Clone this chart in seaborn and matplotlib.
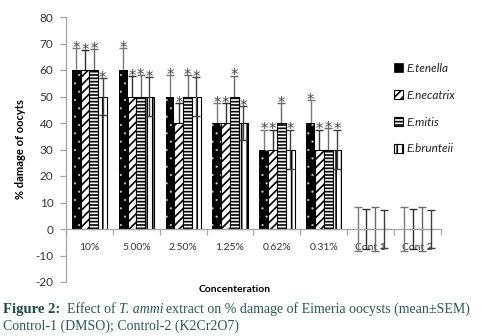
import numpy as np
import pandas as pd
import matplotlib
matplotlib.use("Agg")
import matplotlib.pyplot as plt
import seaborn as sns
from matplotlib.patches import Patch
from matplotlib.ticker import FixedLocator

categories = ['10%', '5.00%', '2.50%', '1.25%', '0.62%', '0.31%', 'Cont 1', 'Cont 2']
species = ['E.tenella', 'E.necatrix', 'E.mitis', 'E.brunteii']
tenella = [60, 60, 50, 40, 30, 40, 0, 0]
necatrix = [60, 50, 40, 40, 30, 30, 0, 0]
mitis = [60, 50, 50, 50, 40, 30, 0, 0]
brunteii = [50, 50, 50, 40, 30, 30, 0, 0]
tenella_sem = [8.3, 8.3, 8.2, 7.5, 7.5, 8.5, 8.3, 8.3]
necatrix_sem = [7.4, 7.6, 7.5, 7.5, 7.5, 7.5, 7.5, 7.5]
mitis_sem = [7.9, 8.0, 8.0, 7.9, 7.5, 8.2, 8.2, 8.2]
brunteii_sem = [7.0, 7.4, 7.4, 6.5, 7.5, 7.5, 7.2, 7.2]
marks = ['*', '*', '*', '*', '*', '*', '', '']

values = [tenella, necatrix, mitis, brunteii]
sems = [tenella_sem, necatrix_sem, mitis_sem, brunteii_sem]

rows = []
for sp, vals in zip(species, values):
    for c, v in zip(categories, vals):
        rows.append({'Concentration': c, 'Species': sp, 'value': v})
df = pd.DataFrame(rows)

sns.set_theme(style="white")
plt.rcParams['font.family'] = ['Lato', 'DejaVu Sans']
plt.rcParams['hatch.linewidth'] = 1.2
plt.rcParams['axes.unicode_minus'] = False

fig = plt.figure(figsize=(4.85, 3.36), dpi=100)
ax = fig.add_axes([66/485, 1-282/336, (441-66)/485, (282-17)/336])

face = {'E.tenella': 'black', 'E.necatrix': 'white', 'E.mitis': 'white', 'E.brunteii': 'white'}
sns.barplot(data=df, x='Concentration', y='value', hue='Species', order=categories,
            hue_order=species, palette=face, errorbar=None, width=0.75, gap=0,
            ax=ax, legend=False, saturation=1)

hatches = ['..', '////', '-----', '|||']
ecol = ['#7a7a7a', '#303030', '#6a6a6a', '#404040']
ezord = [1.5, 1.5, 1.5, 3]
bar_conts = list(ax.containers)
for i, cont in enumerate(bar_conts):
    for j, p in enumerate(cont.patches):
        p.set_zorder(2)
        if i == 0:
            p.set_facecolor('black')
            p.set_edgecolor('#d0d0d0')
            p.set_linewidth(0)
            p.set_hatch('..')
            if hasattr(p, 'set_hatch_linewidth'):
                p.set_hatch_linewidth(0.3)
        else:
            p.set_facecolor('white')
            p.set_edgecolor('black')
            p.set_linewidth(0.8)
            p.set_hatch(hatches[i])
        xc = p.get_x() + p.get_width() / 2
        v = values[i][j]
        s = sems[i][j]
        ax.errorbar(xc, v, yerr=s, fmt='none', ecolor=ecol[i], elinewidth=1.0,
                    capsize=3, capthick=1.0, zorder=ezord[i])
        if marks[j]:
            ax.text(xc, v + s - 1.8, marks[j], ha='center', va='baseline',
                    fontsize=10.5, color='#444444', zorder=4, family='DejaVu Sans')

ax.set_ylim(-20, 80)
ax.set_xlim(-0.5, 7.5)
ax.set_yticks(np.arange(-20, 81, 10))
ax.spines['top'].set_visible(False)
ax.spines['right'].set_visible(False)
ax.spines['bottom'].set_position(('data', 0))
for s in ['left', 'bottom']:
    ax.spines[s].set_color('#a6a6a6')
    ax.spines[s].set_linewidth(0.9)
ax.tick_params(axis='y', left=True, length=4, width=0.9, color='#a6a6a6',
               labelsize=8.5, labelcolor='#333333', pad=5)
ax.tick_params(axis='x', which='major', bottom=False, length=0, labelsize=7.5,
               labelcolor='#333333', pad=10)
ax.xaxis.set_minor_locator(FixedLocator(np.arange(-0.5, 8, 1)))
ax.tick_params(axis='x', which='minor', bottom=True, length=4, width=0.9,
               color='#a6a6a6', direction='out')
ax.set_xlabel('')
ax.set_ylabel('% damage of oocyts', fontsize=8, fontweight='bold', color='black', labelpad=7)

fig.text(235/485, 1-290/336, 'Concenteration', ha='center', va='center',
         fontsize=7.5, fontweight='bold', color='black')

handles = []
for i, sp in enumerate(species):
    if i == 0:
        handles.append(Patch(facecolor='black', edgecolor='black', linewidth=0.5))
    else:
        handles.append(Patch(facecolor='white', edgecolor='black', hatch=hatches[i], linewidth=0.8))
leg = fig.legend(handles, species, loc='upper left', bbox_to_anchor=(383/485, 1-52/336),
                 frameon=False, handlelength=0.8, handleheight=0.8, handletextpad=0.25,
                 labelspacing=1.35, prop={'size': 8.5, 'style': 'italic', 'family': 'Lato'})
for t in leg.get_texts():
    t.set_color('#222222')

# caption
renderer = fig.canvas.get_renderer()
def runs(x, y, parts):
    for txt, kw, gap in parts:
        t = fig.text(x, y, txt, va='baseline', ha='left', **kw)
        bb = t.get_window_extent(renderer)
        x += (bb.width + gap) / fig.bbox.width

teal = '#2d5752'
serif = ['Liberation Serif', 'DejaVu Serif']
base = dict(fontsize=10, color=teal, family=serif)
runs(3/485, 1-313/336, [
    ('Figure 2:', dict(fontsize=10.5, color='#1f4c47', family=serif, fontweight='bold'), 7),
    ('Effect of', base, 3.5),
    ('T. ammi', dict(base, style='italic'), 1.5),
    ('extract on % damage of Eimeria oocysts (mean\u00b1SEM)', base, 0),
])
fig.text(3/485, 1-330/336, 'Control-1 (DMSO); Control-2 (K2Cr2O7)', va='baseline', ha='left', **base)

fig.savefig('out.png', dpi=100)
